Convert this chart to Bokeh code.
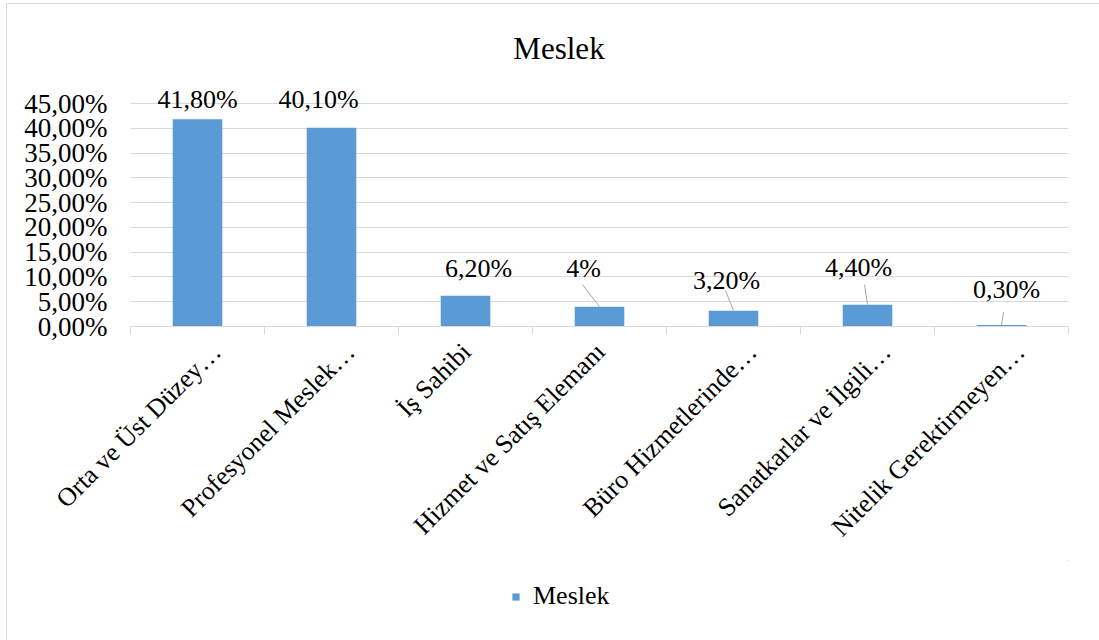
import math

from bokeh.core.properties import value
from bokeh.embed import file_html
from bokeh.layouts import column
from bokeh.models import (ColumnDataSource, CustomJSTickFormatter, FixedTicker,
                          Label, Legend, LegendItem, Range1d)
from bokeh.plotting import figure
from bokeh.resources import INLINE

# ---- data -------------------------------------------------------------
categories = [
    "Orta ve Üst Düzey…",
    "Profesyonel Meslek…",
    "İş Sahibi",
    "Hizmet ve Satış Elemanı",
    "Büro Hizmetlerinde…",
    "Sanatkarlar ve İlgili…",
    "Nitelik Gerektirmeyen…",
]
values = [41.8, 40.1, 6.2, 4.0, 3.2, 4.4, 0.3]
value_labels = ["41,80%", "40,10%", "6,20%", "4%", "3,20%", "4,40%", "0,30%"]
y_ticks = [0, 5, 10, 15, 20, 25, 30, 35, 40, 45]
y_tick_labels = ["0,00%", "5,00%", "10,00%", "15,00%", "20,00%",
                 "25,00%", "30,00%", "35,00%", "40,00%", "45,00%"]
series_name = "Meslek"
chart_title = "Meslek"

# ---- layout / style ---------------------------------------------------
W = 1099
MAIN_H, LEG_H = 560, 80
LEFT = 130                 # left edge of the plotting frame
FRAME_TOP = 8              # top edge of the plotting frame
AXIS_Y = 326               # pixel row of the category axis
FRAME_W = 938
PX_X = FRAME_W / len(categories)      # pixels per category
PX_Y = (AXIS_Y - 103) / 45.0          # pixels per percent (45% sits at row 103)
Y_TOP = (AXIS_Y - FRAME_TOP) / PX_Y

FONT = value("Liberation Serif")
BAR_COLOR = "#5B9BD5"
GRID_COLOR = "#d9d9d9"
TEXT_COLOR = "#000000"

# value label shift from the bar top centre (px): horizontal, baseline height
label_dx = [0, -13, 13, -16, -7, -9, 5]
label_dy = [20, 28, 27, 38, 30, 37, 36]
# leader line start relative to the bar top centre (px), None = no leader
leader_start = [None, None, None, (-17, 22), (-8, 20), (-3, 20), (2, 13)]
# horizontal anchor shift of the slanted category labels (px)
cat_label_dx = [19, 19, 1, 1, 19, 19, 19]

centers = [i + 0.5 for i in range(len(categories))]

p = figure(width=W, height=MAIN_H, output_backend="svg", toolbar_location=None,
           x_range=Range1d(0, len(categories)), y_range=Range1d(0, Y_TOP),
           min_border_left=LEFT, min_border_top=FRAME_TOP,
           min_border_right=W - LEFT - FRAME_W,
           min_border_bottom=MAIN_H - AXIS_Y)
p.outline_line_color = None
p.background_fill_alpha = 0
p.border_fill_alpha = 0

bars = p.vbar(x=centers, top=values, bottom=0, width=0.37,
              fill_color=BAR_COLOR, line_color=None)

# leader lines for the moved labels
lx0, ly0, lx1, ly1 = [], [], [], []
for c, v, st in zip(centers, values, leader_start):
    if st is None:
        continue
    lx0.append(c + st[0] / PX_X)
    ly0.append(v + st[1] / PX_Y)
    lx1.append(c)
    ly1.append(v)
p.segment(x0=lx0, y0=ly0, x1=lx1, y1=ly1, line_color="#a6a6a6", line_width=1)

lab_src = ColumnDataSource(dict(
    x=centers, y=values, text=value_labels,
    xo=label_dx, yo=[-d for d in label_dy]))
p.text(x="x", y="y", text="text", x_offset="xo", y_offset="yo", source=lab_src,
       text_align="center", text_baseline="alphabetic",
       text_font=FONT, text_font_size="26px", text_color=TEXT_COLOR)

# ---- axes -------------------------------------------------------------
yaxis = p.yaxis[0]
yaxis.ticker = FixedTicker(ticks=y_ticks)
yaxis.formatter = CustomJSTickFormatter(
    args=dict(vals=y_ticks, labels=y_tick_labels),
    code="const i = vals.indexOf(Math.round(tick)); return i >= 0 ? labels[i] : '';")
yaxis.axis_line_color = None
yaxis.major_tick_line_color = None
yaxis.minor_tick_line_color = None
yaxis.major_label_standoff = 17
yaxis.major_label_text_font = "Liberation Serif"
yaxis.major_label_text_font_size = "27px"
yaxis.major_label_text_color = TEXT_COLOR

xaxis = p.xaxis[0]
xaxis.ticker = FixedTicker(ticks=[c + d / PX_X for c, d in zip(centers, cat_label_dx)],
                           minor_ticks=list(range(len(categories) + 1)))
xaxis.formatter = CustomJSTickFormatter(
    args=dict(names=categories),
    code="return names[Math.floor(tick)];")
xaxis.axis_line_color = GRID_COLOR
xaxis.axis_line_width = 1
xaxis.major_tick_line_color = None
xaxis.minor_tick_line_color = GRID_COLOR
xaxis.minor_tick_in = 0
xaxis.minor_tick_out = 8
xaxis.major_label_orientation = math.pi / 4
xaxis.major_label_standoff = 13
xaxis.major_label_text_font = "Liberation Serif"
xaxis.major_label_text_font_size = "26px"
xaxis.major_label_text_color = TEXT_COLOR

p.xgrid.visible = False
p.ygrid.ticker = FixedTicker(ticks=y_ticks)
p.ygrid.grid_line_color = GRID_COLOR
p.ygrid.grid_line_width = 1

title = Label(x=558.5 - LEFT, y=AXIS_Y - 48, x_units="screen", y_units="screen",
              text=chart_title, text_align="center", text_baseline="alphabetic",
              text_font="Liberation Serif", text_font_size="31px", text_color=TEXT_COLOR)
p.add_layout(title)

# ---- legend strip underneath -----------------------------------------
# the strip's ranges lie away from the bars, so only the legend swatch shows
leg = figure(width=W, height=LEG_H, output_backend="svg", toolbar_location=None,
             x_range=Range1d(-3, -2), y_range=Range1d(-3, -2),
             x_axis_location=None, y_axis_location=None, min_border=0)
leg.outline_line_color = None
leg.background_fill_alpha = 0
leg.border_fill_alpha = 0
leg.grid.visible = False
swatch = leg.vbar(x=centers, top=values, bottom=0, width=0.37,
                  fill_color=BAR_COLOR, line_color=None)

legend = Legend(items=[LegendItem(label=series_name, renderers=[swatch])],
                location=(381, 29), orientation="horizontal",
                glyph_width=9, glyph_height=9, label_standoff=13,
                padding=0, margin=0, spacing=0,
                border_line_color=None, background_fill_alpha=0,
                label_text_font="Liberation Serif", label_text_font_size="26px",
                label_text_color=TEXT_COLOR)
leg.add_layout(legend)

# thin grey chart-area border along the top and left edges
page = column(p, leg, spacing=0, styles={
    "background-color": "white",
    "background-image": "linear-gradient(#d9d9d9, #d9d9d9), linear-gradient(#d9d9d9, #d9d9d9)",
    "background-size": "1px 100%, 100% 1px",
    "background-position": "6px 3px, 6px 3px",
    "background-repeat": "no-repeat",
})

open("out.html", "w").write(file_html(page, INLINE))
